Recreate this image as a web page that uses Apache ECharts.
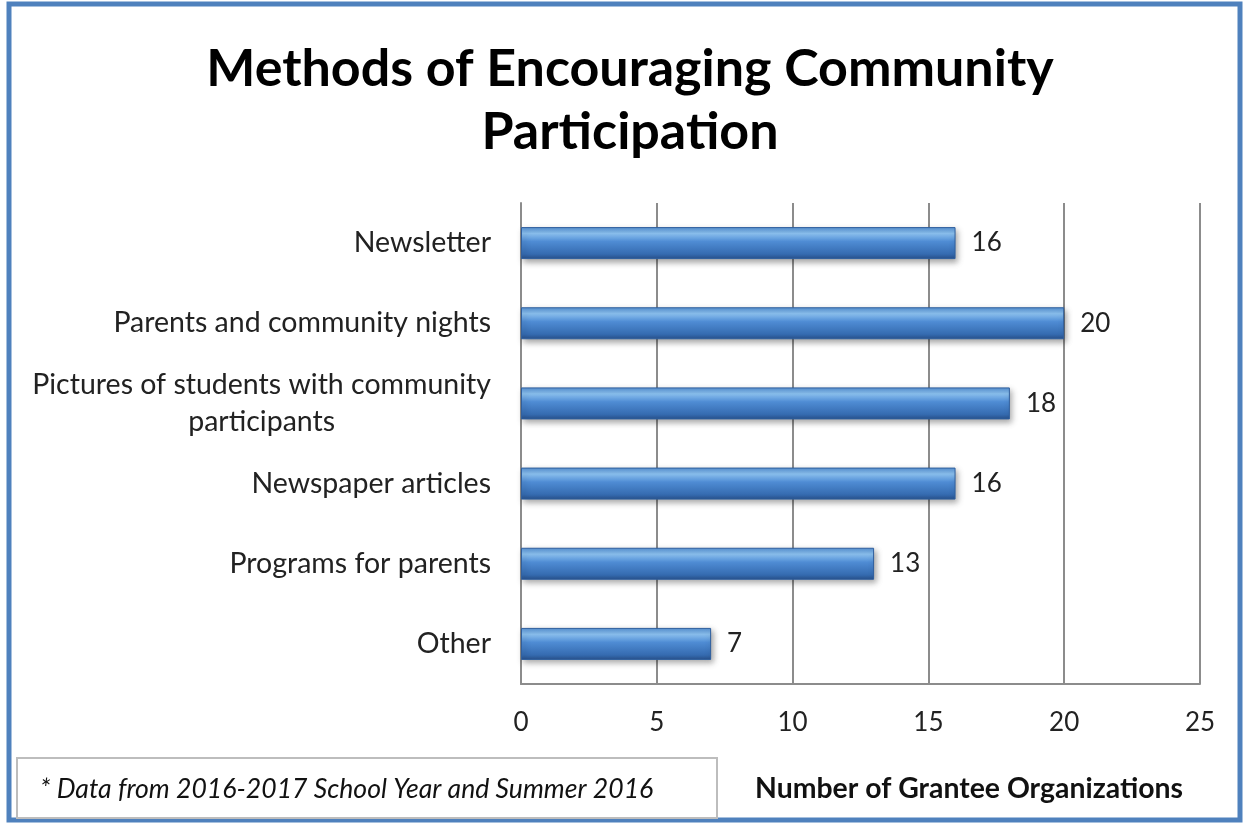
<!DOCTYPE html>
<html>
<head>
<meta charset="utf-8">
<script src="https://cdn.jsdelivr.net/npm/echarts@6/dist/echarts.min.js"></script>
<style>
  html, body { margin: 0; padding: 0; background: #fff; }
  #chart { width: 1249px; height: 826px; }
</style>
</head>
<body>
<div id="chart"></div>
<script>
// Categories listed bottom-to-top (ECharts category y axis starts at the bottom)
const categories = [
  'Other',
  'Programs for parents',
  'Newspaper articles',
  'Pictures of students with community participants',
  'Parents and community nights',
  'Newsletter'
];
const counts = [7, 13, 16, 18, 20, 16];
const xTicks = [0, 5, 10, 15, 20, 25];

const titleText = 'Methods of Encouraging Community\nParticipation';
const footnoteText = '* Data from 2016-2017 School Year and Summer 2016';
const axisTitleText = 'Number of Grantee Organizations';

const FONT = 'Lato, "Open Sans", sans-serif';

const chart = echarts.init(document.getElementById('chart'), null, { renderer: 'canvas' });

const barGradient = new echarts.graphic.LinearGradient(0, 0, 0, 1, [
  { offset: 0, color: '#5590d2' },
  { offset: 0.2, color: '#8cc2f1' },
  { offset: 0.45, color: '#4f8cd4' },
  { offset: 0.85, color: '#356bb0' },
  { offset: 1, color: '#28508a' }
]);

chart.setOption({
  backgroundColor: '#ffffff',
  animation: false,
  grid: { left: 521, right: 49, top: 203, bottom: 142, containLabel: false },
  xAxis: {
    type: 'value',
    min: xTicks[0],
    max: xTicks[xTicks.length - 1],
    interval: 5,
    axisLine: { show: true, lineStyle: { color: '#8c8c8c', width: 2 } },
    axisTick: { show: false },
    axisLabel: { color: '#222', fontFamily: FONT, fontSize: 26, margin: 26 },
    splitLine: { show: true, lineStyle: { color: '#8c8c8c', width: 2 } }
  },
  yAxis: {
    type: 'category',
    data: categories,
    axisLine: { show: true, lineStyle: { color: '#8c8c8c', width: 2 } },
    axisTick: { show: false },
    axisLabel: {
      margin: 30,
      formatter: function (v) {
        if (v.indexOf('Pictures') === 0) {
          return '{c|Pictures of students with community}\n{c|participants}';
        }
        return '{r|' + v + '}';
      },
      rich: {
        c: { align: 'center', color: '#222', fontFamily: FONT, fontSize: 28.5, lineHeight: 37 },
        r: { color: '#222', fontFamily: FONT, fontSize: 28.5 }
      }
    }
  },
  series: [{
    type: 'bar',
    data: counts,
    barWidth: 32,
    itemStyle: {
      color: barGradient,
      borderColor: '#2f5f9e',
      borderWidth: 1,
      shadowColor: 'rgba(0,0,0,0.35)',
      shadowBlur: 6,
      shadowOffsetX: 2,
      shadowOffsetY: 3
    },
    label: {
      show: true,
      position: 'right',
      distance: 16,
      color: '#222',
      fontFamily: FONT,
      fontSize: 26
    }
  }],
  graphic: [
    {
      type: 'rect',
      shape: { x: 9, y: 4, width: 1231, height: 816 },
      style: { fill: 'none', stroke: '#4f81bd', lineWidth: 5 },
      silent: true
    },
    {
      type: 'text',
      x: 630,
      y: 38,
      style: {
        text: titleText,
        fontFamily: FONT,
        fontWeight: 'bold',
        fontSize: 52,
        lineHeight: 63,
        align: 'center',
        verticalAlign: 'top',
        fill: '#000'
      }
    },
    {
      type: 'rect',
      shape: { x: 17, y: 758, width: 700, height: 60 },
      style: { fill: '#fff', stroke: '#bdbdbd', lineWidth: 2 }
    },
    {
      type: 'text',
      x: 40,
      y: 789,
      style: {
        text: footnoteText,
        fontFamily: FONT,
        fontStyle: 'italic',
        fontSize: 26.6,
        verticalAlign: 'middle',
        fill: '#111'
      }
    },
    {
      type: 'text',
      x: 969,
      y: 789,
      style: {
        text: axisTitleText,
        fontFamily: FONT,
        fontWeight: 'bold',
        fontSize: 28.4,
        align: 'center',
        verticalAlign: 'middle',
        fill: '#111'
      }
    }
  ]
});
</script>
</body>
</html>
